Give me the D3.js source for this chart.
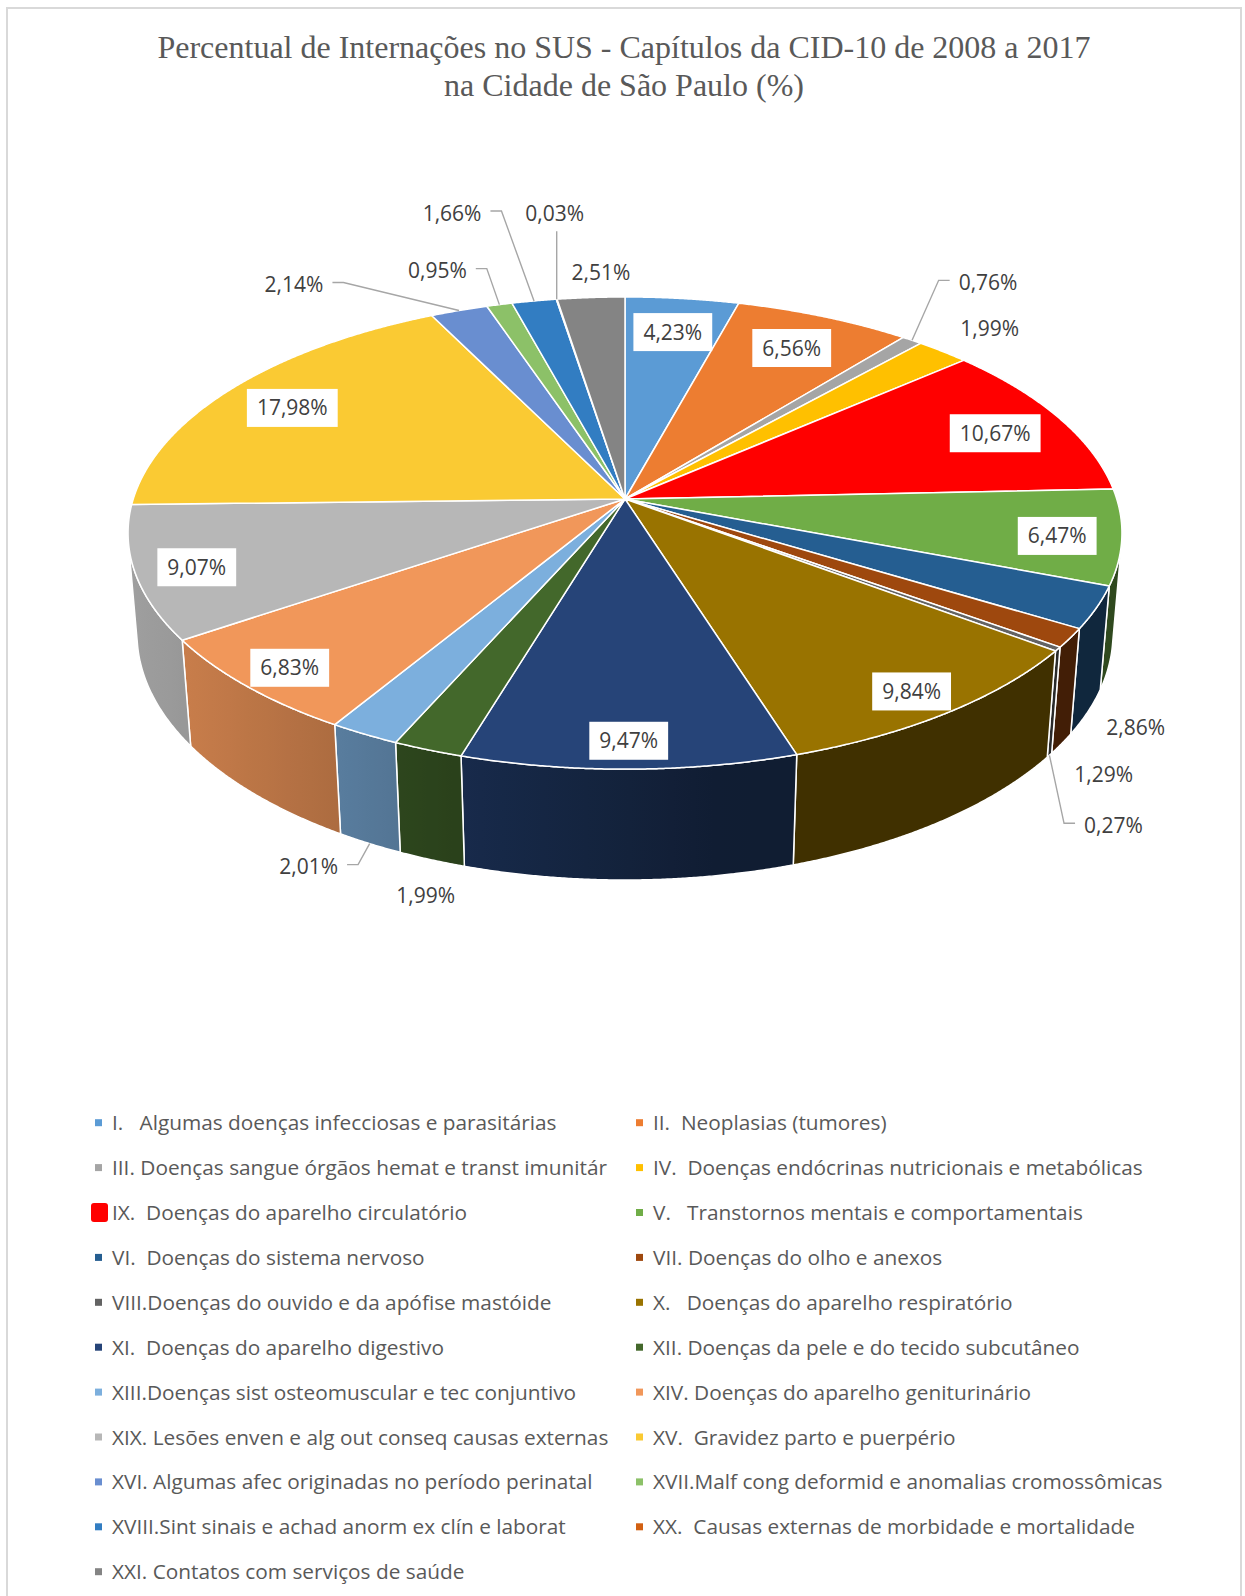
<!DOCTYPE html>
<html>
<head>
<meta charset="utf-8">
<script src="https://d3js.org/d3.v7.min.js"></script>
<style>
  body { margin: 0; background: #ffffff; }
  text { font-family: "Open Sans", sans-serif; }
  .title { font-family: "Liberation Serif", "Times New Roman", serif; font-size: 32px; fill: #595959; }
  .lbl { font-size: 21px; fill: #404040; }
  .leg { font-size: 20.8px; fill: #595959; white-space: pre; }
</style>
</head>
<body>
<div id="chart"></div>
<script>

// chapters of CID-10, in the order of the slices (clockwise from 12 o'clock)
const chapters = [
  "I.   Algumas doenças infecciosas e parasitárias",
  "II.  Neoplasias (tumores)",
  "III. Doenças sangue órgãos hemat e transt imunitár",
  "IV.  Doenças endócrinas nutricionais e metabólicas",
  "IX.  Doenças do aparelho circulatório",
  "V.   Transtornos mentais e comportamentais",
  "VI.  Doenças do sistema nervoso",
  "VII. Doenças do olho e anexos",
  "VIII.Doenças do ouvido e da apófise mastóide",
  "X.   Doenças do aparelho respiratório",
  "XI.  Doenças do aparelho digestivo",
  "XII. Doenças da pele e do tecido subcutâneo",
  "XIII.Doenças sist osteomuscular e tec conjuntivo",
  "XIV. Doenças do aparelho geniturinário",
  "XIX. Lesões enven e alg out conseq causas externas",
  "XV.  Gravidez parto e puerpério",
  "XVI. Algumas afec originadas no período perinatal",
  "XVII.Malf cong deformid e anomalias cromossômicas",
  "XVIII.Sint sinais e achad anorm ex clín e laborat",
  "XX.  Causas externas de morbidade e mortalidade",
  "XXI. Contatos com serviços de saúde"
];

// percent of hospital admissions
const shares = [4.23, 6.56, 0.76, 1.99, 10.67, 6.47, 2.86, 1.29, 0.27, 9.84,
                9.47, 1.99, 2.01, 6.83, 9.07, 17.98, 2.14, 0.95, 1.66, 0.03, 2.51];

const colors = ["#5B9BD5", "#ED7D31", "#A5A5A5", "#FFC000", "#FF0000", "#70AD47",
                "#255E91", "#9E480E", "#636363", "#997300", "#264478", "#43682B",
                "#7CAFDD", "#F1975A", "#B7B7B7", "#FACA33", "#698ED0", "#8CC168",
                "#327DC2", "#D26012", "#848484"];

// labels drawn outside the pie: offset from the slice anchor, in px
const outsideOffset = {
  2: [76, -58], 3: [47, -23], 6: [48, 15], 7: [42, 31], 8: [64, 70],
  11: [-6, 36], 12: [-61, 23], 16: [-165, -26], 17: [-62, -34],
  18: [-82, -88], 19: [-2, -86], 20: [10, -25]
};
const withLeader = [2, 8, 12, 16, 17, 18, 19];

const width = 1245, height = 1596;

// 3d view of the pie (unit radius, perspective camera)
const cx = 625, cy = 499, focal = 3010, dist = 6.121, depth = 0.2345;
const tilt = 28.04 * Math.PI / 180;
const cosT = Math.cos(tilt), sinT = Math.sin(tilt);

function project(phi, r, y) {
  const X = r * Math.sin(phi), Z = r * Math.cos(phi);
  const yc = y * cosT + Z * sinT;
  const d = dist + Z * cosT - y * sinT;
  return [cx + focal * X / d, cy - focal * yc / d];
}

// the side wall faces the viewer only for this range of angles
const wallMin = Math.acos(-1 / (dist * cosT));
const wallMax = 2 * Math.PI - wallMin;

function arcPts(a0, a1, r, y) {
  const n = Math.max(2, Math.ceil((a1 - a0) / 0.004));
  return d3.range(n + 1).map(i => project(a0 + (a1 - a0) * i / n, r, y));
}

function shade(phi) {
  return 0.42 + 0.45 * Math.max(0, Math.cos(phi - 260 * Math.PI / 180));
}

const fmt = d3.formatLocale({decimal: ",", thousands: ".", grouping: [3], currency: ["R$", ""]}).format(".2f");

const svg = d3.select("#chart").append("svg")
  .attr("width", width)
  .attr("height", height);

const defs = svg.append("defs");

// chart border
svg.append("rect")
  .attr("x", 7).attr("y", 8)
  .attr("width", 1234).attr("height", 1620)
  .attr("fill", "none")
  .attr("stroke", "#D9D9D9")
  .attr("stroke-width", 2);

// title
svg.append("text").attr("class", "title")
  .attr("x", 624).attr("y", 58)
  .attr("text-anchor", "middle")
  .text("Percentual de Internações no SUS - Capítulos da CID-10 de 2008 a 2017");
svg.append("text").attr("class", "title")
  .attr("x", 624).attr("y", 96)
  .attr("text-anchor", "middle")
  .text("na Cidade de São Paulo (%)");

const arcs = d3.pie().sort(null).value(d => d)(shares);

// side walls, shaded darker to the right
const walls = svg.append("g");
arcs.forEach((a, i) => {
  const w0 = Math.max(a.startAngle, wallMin), w1 = Math.min(a.endAngle, wallMax);
  if (w1 <= w0) return;
  const x1 = project(w0, 1, 0)[0], x2 = project(w1, 1, 0)[0];
  const grad = defs.append("linearGradient")
    .attr("id", "wall" + i)
    .attr("gradientUnits", "userSpaceOnUse")
    .attr("x1", x1).attr("y1", 0).attr("x2", x2).attr("y2", 0);
  const base = d3.rgb(colors[i]);
  d3.range(9).forEach(k => {
    const phi = w0 + (w1 - w0) * k / 8;
    const px = project(phi, 1, 0)[0];
    const s = shade(phi);
    grad.append("stop")
      .attr("offset", Math.abs(x2 - x1) < 0.01 ? 0 : (px - x1) / (x2 - x1))
      .attr("stop-color", d3.rgb(base.r * s, base.g * s, base.b * s).formatHex());
  });
  const pts = arcPts(w0, w1, 1, 0).concat(arcPts(w0, w1, 1, -depth).reverse());
  walls.append("path")
    .attr("d", d3.line()(pts) + "Z")
    .attr("fill", "url(#wall" + i + ")")
    .attr("stroke", "#ffffff")
    .attr("stroke-width", 1.5)
    .attr("stroke-linejoin", "round");
});

// top faces
svg.append("g").selectAll("path")
  .data(arcs)
  .join("path")
  .attr("d", a => d3.line()([[cx, cy]].concat(arcPts(a.startAngle, a.endAngle, 1, 0))) + "Z")
  .attr("fill", (a, i) => colors[i])
  .attr("stroke", "#ffffff")
  .attr("stroke-width", 1.5)
  .attr("stroke-linejoin", "round");

// data labels
const labels = svg.append("g");
arcs.forEach((a, i) => {
  const mid = (a.startAngle + a.endAngle) / 2;
  const txt = fmt(a.data) + "%";
  if (!(i in outsideOffset)) {
    const edge = project(mid, 1, 0);
    const k = 0.865 - 0.03 * Math.cos(mid);
    const lx = cx + k * (edge[0] - cx);
    const ly = cy + k * (edge[1] - cy) + 4 * Math.max(0, Math.sin(Math.abs(mid - Math.PI)));
    const g = labels.append("g");
    const box = g.append("rect").attr("fill", "#ffffff");
    const t = g.append("text").attr("class", "lbl")
      .attr("x", lx).attr("y", ly).attr("dy", "0.36em")
      .attr("text-anchor", "middle").text(txt);
    const w = t.node().getComputedTextLength() + 20;
    box.attr("x", lx - w / 2).attr("y", ly - 19).attr("width", w).attr("height", 38);
  } else {
    const onWall = mid > wallMin && mid < wallMax;
    const anchor = project(mid, 1, onWall ? -depth : 0);
    const lx = anchor[0] + outsideOffset[i][0], ly = anchor[1] + outsideOffset[i][1];
    const t = labels.append("text").attr("class", "lbl")
      .attr("x", lx).attr("y", ly).attr("dy", "0.36em")
      .attr("text-anchor", "middle").text(txt);
    if (withLeader.includes(i)) {
      const half = t.node().getComputedTextLength() / 2;
      let pts;
      if (Math.abs(anchor[0] - lx) < 20) {
        pts = [[anchor[0], ly + 18], anchor];
      } else {
        const side = anchor[0] > lx ? 1 : -1;
        const sx = lx + side * (half + 9);
        pts = [[sx, ly - 2], [sx + side * 11, ly - 2], anchor];
      }
      labels.append("path")
        .attr("d", d3.line()(pts))
        .attr("fill", "none")
        .attr("stroke", "#A6A6A6")
        .attr("stroke-width", 1.4);
    }
  }
});

// legend, two columns, row by row
const rowY = d3.scaleLinear().domain([0, 10]).range([1122.7, 1571.7]);
const colX = d3.scaleOrdinal().domain([0, 1]).range([95, 636]);

const legend = svg.append("g").selectAll("g")
  .data(chapters)
  .join("g")
  .attr("transform", (d, i) => `translate(${colX(i % 2)},${rowY(Math.floor(i / 2))})`);

legend.append("rect")
  .attr("x", (d, i) => i === 4 ? -4 : 0)
  .attr("y", (d, i) => i === 4 ? -9.5 : -3.5)
  .attr("width", (d, i) => i === 4 ? 17 : 7)
  .attr("height", (d, i) => i === 4 ? 19 : 7)
  .attr("rx", (d, i) => i === 4 ? 3 : 0)
  .attr("fill", (d, i) => colors[i]);

legend.append("text").attr("class", "leg")
  .attr("x", 17)
  .attr("dy", "0.36em")
  .text(d => d);

</script>
</body>
</html>
